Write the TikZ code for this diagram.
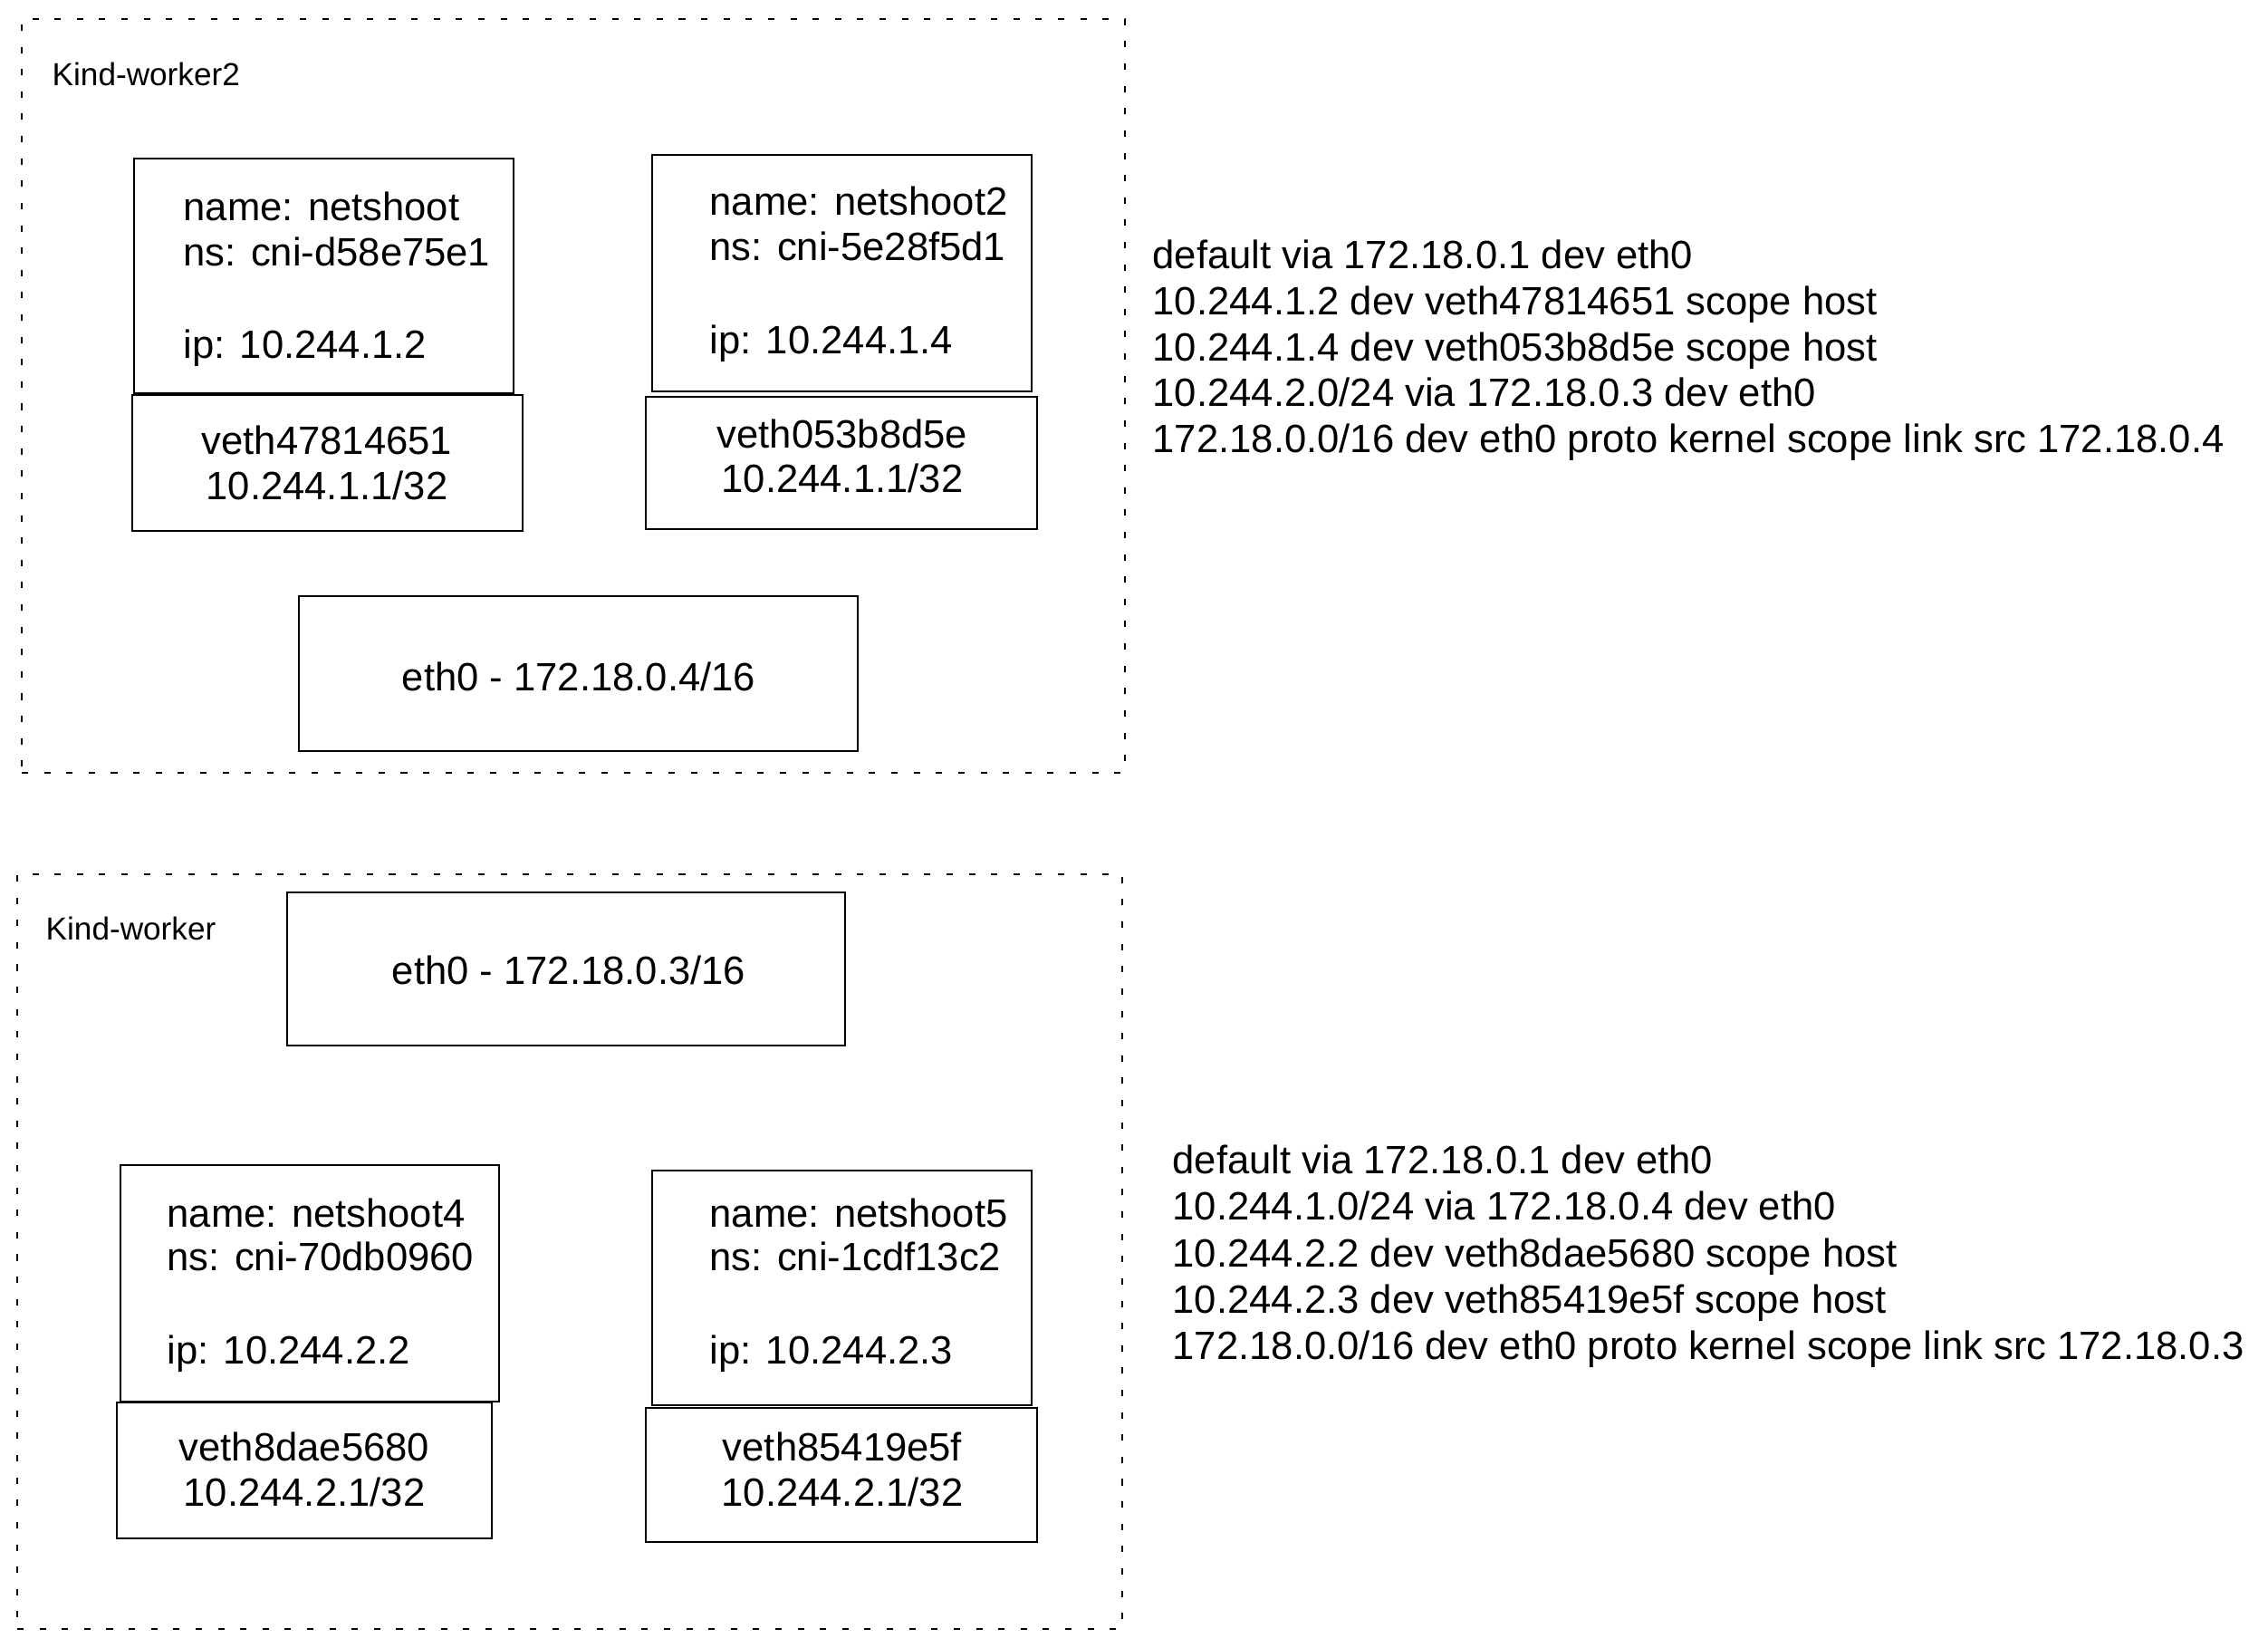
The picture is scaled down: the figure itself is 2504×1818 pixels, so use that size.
\documentclass[tikz,border=0pt]{standalone}
\usepackage{fontspec}
\setmainfont{Liberation Sans}
\usetikzlibrary{fit}
\tikzset{
  box/.style={draw, line width=0.8pt, inner sep=0pt},
  frame/.style={draw, line width=0.8pt, dash pattern=on 2pt off 5pt, inner sep=0pt},
  txt/.style={font=\fontsize{12.4}{15}\selectfont, inner sep=0pt, text height=8.9pt, text depth=0pt},
  ltxt/.style={txt, anchor=west},
  lbl/.style={font=\fontsize{10}{12}\selectfont, inner sep=0pt, text height=7.2pt, text depth=0pt, anchor=west},
}
\begin{document}
\begin{tikzpicture}[x=0.01cm,y=-0.01cm]
\useasboundingbox[fill=white] (0,0) rectangle (2504,1818);

% ---------- Kind-worker2 ----------
\node[frame, fit={(24,21) (1242,853)}] (w2) {};
\node[lbl] (w2l) at (57,82) {Kind-worker2};

\node[box, fit={(148,175) (567,434)}] (p1) {};
\node[ltxt] (p1a) at (202,228) {name: netshoot};
\node[ltxt] (p1b) at (202,278) {ns: cni-d58e75e1};
\node[ltxt] (p1c) at (202,380) {ip: 10.244.1.2};
\node[box, fit={(146,436) (577,586)}] (v1) {};
\node[txt] (v1a) at (361,486) {veth47814651};
\node[txt] (v1b) at (361,536) {10.244.1.1/32};

\node[box, fit={(720,171) (1139,432)}] (p2) {};
\node[ltxt] (p2a) at (783,222) {name: netshoot2};
\node[ltxt] (p2b) at (783,272) {ns: cni-5e28f5d1};
\node[ltxt] (p2c) at (783,375) {ip: 10.244.1.4};
\node[box, fit={(713,438) (1145,584)}] (v2) {};
\node[txt] (v2a) at (930,479) {veth053b8d5e};
\node[txt] (v2b) at (930,528) {10.244.1.1/32};

\node[box, fit={(330,658) (947,829)}] (e2) {};
\node[txt] (e2t) at (639,747) {eth0 - 172.18.0.4/16};

\node[ltxt] (r1) at (1272,281) {default via 172.18.0.1 dev eth0};
\node[ltxt] (r2) at (1272,332) {10.244.1.2 dev veth47814651 scope host};
\node[ltxt] (r3) at (1272,383) {10.244.1.4 dev veth053b8d5e scope host};
\node[ltxt] (r4) at (1272,433) {10.244.2.0/24 via 172.18.0.3 dev eth0};
\node[ltxt] (r5) at (1272,484) {172.18.0.0/16 dev eth0 proto kernel scope link src 172.18.0.4};

% ---------- Kind-worker ----------
\node[frame, fit={(19,965) (1239,1798)}] (w1) {};
\node[lbl] (w1l) at (50,1025) {Kind-worker};

\node[box, fit={(317,985) (933,1154)}] (e1) {};
\node[txt] (e1t) at (628,1071) {eth0 - 172.18.0.3/16};

\node[box, fit={(133,1286) (551,1547)}] (p4) {};
\node[ltxt] (p4a) at (184,1339) {name: netshoot4};
\node[ltxt] (p4b) at (184,1387) {ns: cni-70db0960};
\node[ltxt] (p4c) at (184,1490) {ip: 10.244.2.2};
\node[box, fit={(129,1548) (543,1698)}] (v4) {};
\node[txt] (v4a) at (336,1597) {veth8dae5680};
\node[txt] (v4b) at (336,1647) {10.244.2.1/32};

\node[box, fit={(720,1292) (1139,1551)}] (p5) {};
\node[ltxt] (p5a) at (783,1339) {name: netshoot5};
\node[ltxt] (p5b) at (783,1387) {ns: cni-1cdf13c2};
\node[ltxt] (p5c) at (783,1490) {ip: 10.244.2.3};
\node[box, fit={(713,1554) (1145,1702)}] (v5) {};
\node[txt] (v5a) at (930,1597) {veth85419e5f};
\node[txt] (v5b) at (930,1647) {10.244.2.1/32};

\node[ltxt] (s1) at (1294,1280) {default via 172.18.0.1 dev eth0};
\node[ltxt] (s2) at (1294,1331) {10.244.1.0/24 via 172.18.0.4 dev eth0};
\node[ltxt] (s3) at (1294,1383) {10.244.2.2 dev veth8dae5680 scope host};
\node[ltxt] (s4) at (1294,1434) {10.244.2.3 dev veth85419e5f scope host};
\node[ltxt] (s5) at (1294,1485) {172.18.0.0/16 dev eth0 proto kernel scope link src 172.18.0.3};
\end{tikzpicture}
\end{document}
